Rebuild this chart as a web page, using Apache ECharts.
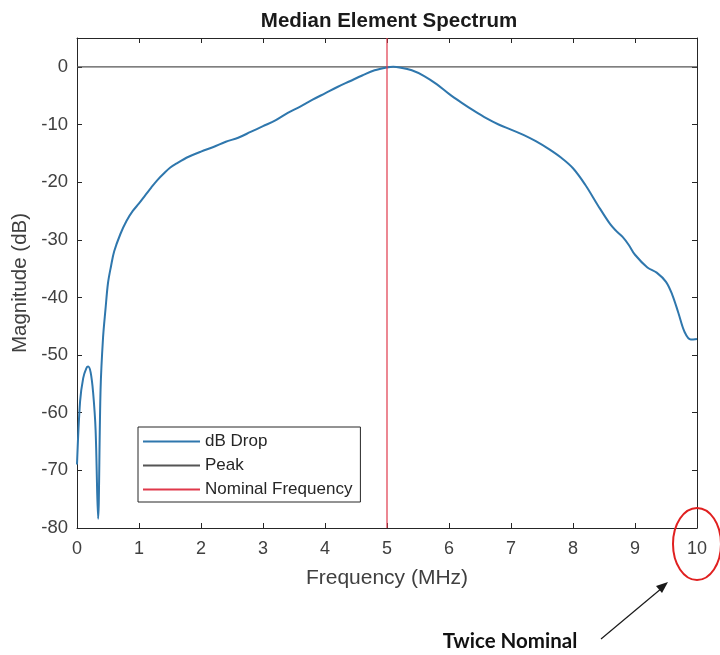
<!DOCTYPE html>
<html>
<head>
<meta charset="utf-8">
<script src="https://cdn.jsdelivr.net/npm/echarts@6/dist/echarts.min.js"></script>
<style>html,body{margin:0;padding:0;background:#fff;}#c{width:720px;height:655px;}</style>
</head>
<body>
<div id="c"></div>
<script>
const freq = [0, 0.05, 0.1, 0.15, 0.18, 0.22, 0.26, 0.3, 0.34, 0.38, 0.42, 0.46, 0.5, 0.55, 0.6, 0.7, 0.8, 0.9, 1.0, 1.1, 1.2, 1.3, 1.4, 1.5, 1.6, 1.8, 2.0, 2.2, 2.4, 2.6, 2.8, 3.0, 3.2, 3.4, 3.6, 3.8, 4.0, 4.2, 4.4, 4.6, 4.8, 5.0, 5.1, 5.2, 5.4, 5.6, 5.8, 6.0, 6.2, 6.4, 6.6, 6.8, 7.0, 7.2, 7.4, 7.6, 7.8, 8.0, 8.2, 8.4, 8.6, 8.7, 8.8, 8.9, 9.0, 9.2, 9.35, 9.5, 9.6, 9.7, 9.8, 9.9, 10];
const dbDrop = [-69, -58, -54, -52.3, -52, -53, -56.5, -63, -78.4, -56, -47, -42, -37.5, -34.5, -32, -29, -26.7, -25, -23.7, -22.3, -20.9, -19.6, -18.5, -17.5, -16.8, -15.6, -14.7, -13.9, -13.0, -12.3, -11.3, -10.3, -9.3, -8.0, -6.9, -5.7, -4.6, -3.5, -2.5, -1.5, -0.6, -0.1, 0, -0.1, -0.6, -1.6, -3.0, -4.7, -6.2, -7.6, -8.9, -10.0, -10.9, -11.8, -12.9, -14.2, -15.7, -17.6, -20.5, -24.0, -27.3, -28.5, -29.5, -30.9, -32.6, -34.8, -35.7, -37.3, -39.5, -42.7, -46, -47.3, -47.2];
const peakValue = 0;
const nominalFreq = 5;
const xTicks = [0,1,2,3,4,5,6,7,8,9,10];
const yTicks = [-80,-70,-60,-50,-40,-30,-20,-10,0];
const seriesNames = ['dB Drop', 'Peak', 'Nominal Frequency'];

const FONT = '"Liberation Sans", Arial, sans-serif';
const axisCol = '#404040';
const chart = echarts.init(document.getElementById('c'), null, {renderer: 'canvas'});

const curve = freq.map((f, i) => [f, dbDrop[i]]);
const hidden = {show:false};
const sideAxis = (type, pos, ticks) => ({
  type: 'value', position: pos, min: type==='x'?0:-80, max: type==='x'?10:5,
  axisLine: {show: true, onZero: false, lineStyle: {color: '#262626', width: 1}},
  axisTick: {show: true, inside: true, length: 5, customValues: ticks, lineStyle: {color: '#262626'}},
  axisLabel: {show: false}, splitLine: hidden
});

chart.setOption({
  animation: false,
  backgroundColor: '#fff',
  title: {
    text: 'Median Element Spectrum', left: 384, top: 6, textAlign: 'center',
    textStyle: {fontFamily: FONT, fontWeight: 'bold', fontSize: 20.5, color: '#1a1a1a'}
  },
  grid: {left: 77, right: 23, top: 38, bottom: 127, containLabel: false, outerBoundsMode: 'none'},
  legend: {
    orient: 'vertical', left: 138, top: 427,
    data: seriesNames,
    backgroundColor: '#fff', borderColor: '#262626', borderWidth: 1,
    padding: [5, 8, 3, 5], itemGap: 5, itemWidth: 57, itemHeight: 2, icon: 'rect',
    textStyle: {fontFamily: FONT, fontSize: 17, color: '#262626', padding: [0,0,0,0], lineHeight: 19}
  },
  xAxis: [{
    type: 'value', min: 0, max: 10, interval: 1,
    name: 'Frequency (MHz)', nameLocation: 'middle', nameGap: 40,
    nameTextStyle: {fontFamily: FONT, fontSize: 21, color: axisCol},
    axisLine: {show: true, onZero: false, lineStyle: {color: '#262626', width: 1}},
    axisTick: {show: true, inside: true, length: 5, customValues: xTicks, lineStyle: {color: '#262626'}},
    axisLabel: {customValues: xTicks, fontFamily: FONT, fontSize: 18, color: axisCol, margin: 12},
    splitLine: hidden
  }, sideAxis('x', 'top', xTicks)],
  yAxis: [{
    type: 'value', min: -80, max: 5,
    name: 'Magnitude (dB)', nameLocation: 'middle', nameGap: 41, nameRotate: 90,
    nameTextStyle: {fontFamily: FONT, fontSize: 20.5, color: axisCol},
    axisLine: {show: true, onZero: false, lineStyle: {color: '#262626', width: 1}},
    axisTick: {show: true, inside: true, length: 5, customValues: yTicks, lineStyle: {color: '#262626'}},
    axisLabel: {customValues: yTicks, fontFamily: FONT, fontSize: 18.5, color: axisCol, margin: 9},
    splitLine: hidden
  }, sideAxis('y', 'right', yTicks)],
  series: [
    {
      name: seriesNames[0], type: 'line', data: curve, showSymbol: false, symbol: 'none',
      smooth: 0.35, color: '#2f77ad', lineStyle: {width: 2, color: '#2f77ad'}, z: 3
    },
    {
      name: seriesNames[1], type: 'line', data: [[0, peakValue], [10, peakValue]], symbol: 'none',
      color: '#555', lineStyle: {width: 1.3, color: '#555'}, z: 2
    },
    {
      name: seriesNames[2], type: 'line', data: [[nominalFreq, -80], [nominalFreq, 5]], symbol: 'none',
      color: '#e0384a', lineStyle: {width: 1.2, color: '#e0384a'}, z: 4
    }
  ],
  graphic: [
    {type: 'ellipse', shape: {cx: 697, cy: 544, rx: 24, ry: 36}, style: {fill: 'none', stroke: '#e02020', lineWidth: 2}, z: 10},
    {type: 'line', shape: {x1: 601, y1: 639, x2: 662, y2: 588}, style: {stroke: '#1a1a1a', lineWidth: 1.2}, z: 10},
    {type: 'polygon', shape: {points: [[668, 582], [656, 586], [662, 593]]}, style: {fill: '#1a1a1a'}, z: 10},
    {type: 'text', x: 510, y: 641, style: {text: 'Twice Nominal', font: 'bold 20.5px Lato, "Open Sans", sans-serif', fill: '#111', textAlign: 'center', textVerticalAlign: 'middle'}, z: 10}
  ]
});
</script>
</body>
</html>
